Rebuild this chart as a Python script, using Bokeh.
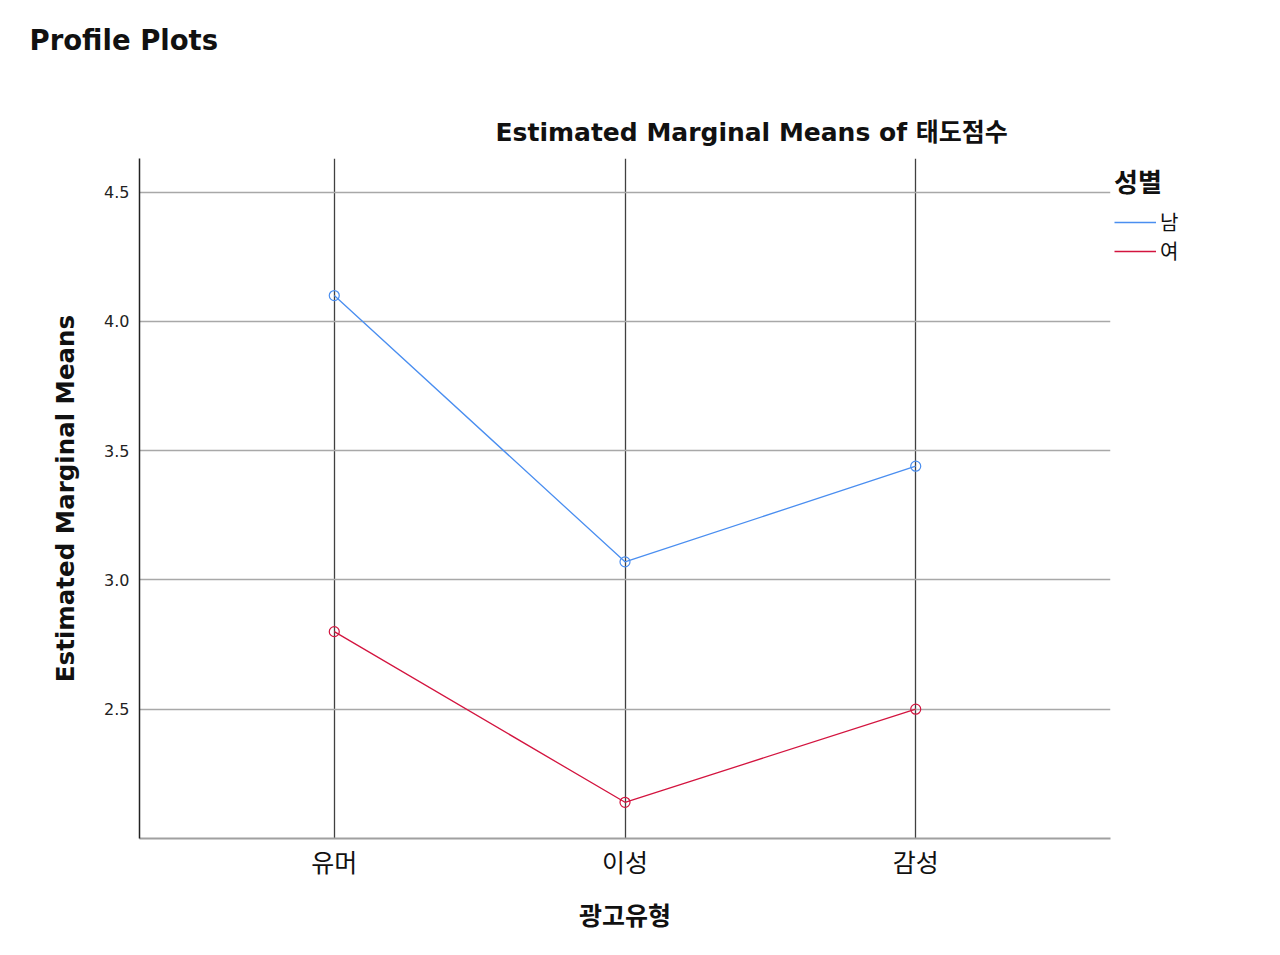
from bokeh.plotting import figure
from bokeh.models import FactorRange, Range1d, FixedTicker, Legend, LegendItem, Title
from bokeh.embed import file_html
from bokeh.resources import INLINE

# ---- data ----
ad_types = ["유머", "이성", "감성"]
male_means = [4.10, 3.07, 3.44]
female_means = [2.80, 2.14, 2.50]
y_ticks = [2.5, 3.0, 3.5, 4.0, 4.5]
series_names = ["남", "여"]

LATIN = "DejaVu Sans, Noto Sans CJK KR"
KR = "Noto Sans CJK KR, DejaVu Sans"

BLUE = "#4a8ef0"
RED = "#d3143f"

p = figure(
    frame_width=971, frame_height=680,
    x_range=FactorRange(*ad_types, range_padding=0.1133, range_padding_units="percent"),
    y_range=Range1d(2.0, 4.63),
    output_backend="svg", toolbar_location=None,
    min_border_left=139, min_border_right=160, min_border_top=158, min_border_bottom=110,
)
p.outline_line_color = None
p.background_fill_color = "white"

# outer title
p.title.text = "Profile Plots"
p.title.text_font = LATIN
p.title.text_font_size = "27.5px"
p.title.text_font_style = "bold"
p.title.text_color = "#111111"
p.title.align = "left"
p.title.offset = -110
p.title.standoff = 42

chart_title = Title(text="Estimated Marginal Means of 태도점수", text_font=LATIN,
                    text_font_size="25px", text_font_style="bold", text_color="#111111",
                    align="left", offset=356, standoff=24)
p.add_layout(chart_title, "above")
spacer = Title(text=" ", text_font=LATIN, text_font_size="1px", standoff=24)
p.add_layout(spacer, "above")

# axes
p.yaxis.ticker = FixedTicker(ticks=y_ticks)
p.yaxis.major_label_overrides = {t: f"{t:.1f}" for t in y_ticks}
p.yaxis.axis_label = "Estimated Marginal Means"
p.yaxis.axis_label_text_font = LATIN
p.yaxis.axis_label_text_font_size = "24.5px"
p.yaxis.axis_label_text_font_style = "bold"
p.yaxis.axis_label_text_color = "#111111"
p.yaxis.axis_label_standoff = 21
p.yaxis.major_label_text_font = LATIN
p.yaxis.major_label_text_font_size = "16px"
p.yaxis.major_label_text_color = "#222222"
p.yaxis.major_label_standoff = 4
p.yaxis.major_tick_line_color = None
p.yaxis.minor_tick_line_color = None
p.yaxis.axis_line_color = "#222222"
p.yaxis.axis_line_width = 1.5

p.xaxis.axis_label = "광고유형"
p.xaxis.axis_label_text_font = KR
p.xaxis.axis_label_text_font_size = "25px"
p.xaxis.axis_label_text_font_style = "bold"
p.xaxis.axis_label_text_color = "#111111"
p.xaxis.axis_label_standoff = 14
p.xaxis.major_label_text_font = KR
p.xaxis.major_label_text_font_size = "25px"
p.xaxis.major_label_text_color = "#111111"
p.xaxis.major_label_standoff = -2
p.xaxis.major_tick_line_color = None
p.xaxis.axis_line_color = "#a0a0a0"
p.xaxis.axis_line_width = 2

# grids
p.ygrid.ticker = FixedTicker(ticks=y_ticks)
p.ygrid.grid_line_color = "#a8a8a8"
p.ygrid.grid_line_width = 1.5
p.xgrid.grid_line_color = "#404040"
p.xgrid.grid_line_width = 1.3

# series
male_line = p.line(ad_types, male_means, line_color=BLUE, line_width=1.3)
p.scatter(ad_types, male_means, marker="circle", size=10, fill_color=None,
          line_color=BLUE, line_width=1.2)
female_line = p.line(ad_types, female_means, line_color=RED, line_width=1.3)
p.scatter(ad_types, female_means, marker="circle", size=10, fill_color=None,
          line_color=RED, line_width=1.2)

legend = Legend(
    items=[LegendItem(label=series_names[0], renderers=[male_line]),
           LegendItem(label=series_names[1], renderers=[female_line])],
    title="성별", location="top_left",
)
legend.title_text_font = KR
legend.title_text_font_size = "26px"
legend.title_text_font_style = "bold"
legend.title_text_color = "#111111"
legend.title_standoff = 8
legend.label_text_font = KR
legend.label_text_font_size = "20px"
legend.label_text_color = "#111111"
legend.label_standoff = 4
legend.glyph_width = 42
legend.glyph_height = 20
legend.label_height = 20
legend.spacing = 0
legend.padding = 5
legend.margin = 4
legend.border_line_color = None
legend.background_fill_color = None
p.add_layout(legend, "right")

open("out.html", "w").write(file_html(p, INLINE))
